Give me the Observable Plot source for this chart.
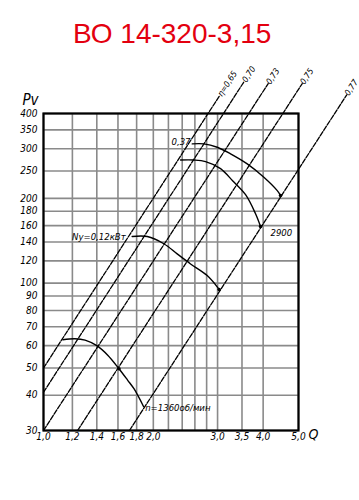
<!DOCTYPE html>
<html><head><meta charset="utf-8">
<script src="https://cdn.jsdelivr.net/npm/d3@7"></script>
<script src="https://cdn.jsdelivr.net/npm/@observablehq/plot@0.6"></script>
<style>
body{margin:0;background:#fff;width:359px;height:500px;overflow:hidden}
#title{height:50px;position:relative}
#title span{position:absolute;left:73px;top:19.6px;line-height:28px;font-family:"Liberation Sans",Arial,sans-serif;font-size:28px;color:#e3000f;white-space:nowrap}
#chart svg{display:block}
</style></head>
<body>
<div id="title"><span>ВО 14-320-3,15</span></div>
<div id="chart"></div>
<script>
// axis ticks / grid
const xTicks = [1.0, 1.2, 1.4, 1.6, 1.8, 2.0, 3.0, 3.5, 4.0, 5.0];
const xGrid = [1.0, 1.2, 1.4, 1.6, 1.8, 2.0, 2.2, 2.4, 2.6, 2.8, 3.0, 3.5, 4.0, 5.0];
const yTicks = [30, 40, 50, 60, 70, 80, 90, 100, 120, 140, 160, 180, 200, 250, 300, 350, 400];

// efficiency lines (start / end points)
const etaLabels = ["η=0,65", "0,70", "0,73", "0,75", "0,77"];
const etaQ0 = [1.0, 1.0, 1.0, 1.24, 1.72];
const etaP0 = [50, 41, 30, 30, 30];
const etaQ1 = [3.04, 3.55, 4.13, 5.12, 6.78];
const etaP1 = [463, 520, 511, 511, 466];

// fan curves
const lowQ = [1.13, 1.22, 1.30, 1.40, 1.50, 1.61, 1.70, 1.77, 1.88];
const lowP = [63, 63.5, 62.8, 60, 55.5, 49.7, 45.3, 42.2, 36.5];
const midQ = [1.75, 1.925, 2.137, 2.325, 2.53, 2.81, 3.03];
const midP = [146.4, 146.4, 138, 127, 117, 106.4, 95];
const topQ = [2.557, 2.751, 2.994, 3.256, 3.618, 4.018, 4.373, 4.465];
const topP = [312, 312, 303.6, 287.7, 265, 237.6, 213, 204.6];
const up2Q = [2.375, 2.583, 2.781, 3.057, 3.298, 3.58, 3.81, 3.935];
const up2P = [273.5, 273.5, 270, 255, 231, 206, 176.6, 158.8];

// marked points
const dotQ = [1.61, 4.465, 3.935, 3.03];
const dotP = [49.7, 204.6, 158.8, 95];

// annotations
const noteText = ["Ny=0,12кВт", "0,37", "2900", "n=1360об/мин"];
const noteQ = [1.68, 2.53, 4.19, 1.9];
const noteP = [146.4, 318, 151, 36.2];
const noteAnchor = ["end", "end", "start", "start"];

const etaRows = [];
etaLabels.forEach((l, i) => {
  etaRows.push({id: i, Q: etaQ0[i], P: etaP0[i]});
  etaRows.push({id: i, Q: etaQ1[i], P: etaP1[i]});
});
const etaEnds = etaLabels.map((l, i) => ({label: l, Q: etaQ1[i], P: etaP1[i]}));

const curveRows = [];
[[lowQ, lowP], [midQ, midP], [topQ, topP], [up2Q, up2P]].forEach(([qs, ps], k) => {
  qs.forEach((q, j) => curveRows.push({id: k, Q: q, P: ps[j]}));
});
const dots = dotQ.map((q, i) => ({Q: q, P: dotP[i]}));
const notes = noteText.map((t, i) => ({t, Q: noteQ[i], P: noteP[i], a: noteAnchor[i]}));

const font = "'DejaVu Sans Condensed','DejaVu Sans',sans-serif";

const chart = Plot.plot({
  width: 359,
  height: 450,
  marginTop: 63,
  marginBottom: 70,
  marginLeft: 43,
  marginRight: 61,
  style: {fontFamily: font, fontStretch: "condensed", fontStyle: "italic", fontSize: "10px", background: "#fff", color: "#000"},
  x: {type: "log", domain: [1, 5], axis: null},
  y: {type: "log", domain: [30, 400], axis: null},
  marks: [
    Plot.ruleX(xGrid, {stroke: "#8a8a8a", strokeWidth: 1.6}),
    Plot.ruleY(yTicks, {stroke: "#8a8a8a", strokeWidth: 1.6}),
    Plot.frame({stroke: "#000", strokeWidth: 2.2}),
    Plot.text(xTicks, {x: d => d, frameAnchor: "bottom", dy: 9.5, text: d => d.toFixed(1).replace(".", ","), fontSize: 10}),
    Plot.text(yTicks, {y: d => d, frameAnchor: "left", dx: -6, textAnchor: "end", text: d => String(d), fontSize: 10}),
    Plot.line(etaRows, {x: "Q", y: "P", z: "id", stroke: "#000", strokeWidth: 1.3, strokeDasharray: "5,1.5"}),
    Plot.line(curveRows, {x: "Q", y: "P", z: "id", stroke: "#000", strokeWidth: 1.4, curve: "catmull-rom"}),
    Plot.dot(dots, {x: "Q", y: "P", r: 1.8, fill: "#000"}),
    Plot.text(etaEnds, {x: "Q", y: "P", text: "label", rotate: -57, textAnchor: "start", dx: 0, fontSize: 8.5}),
    Plot.text(notes.filter(d => d.a === "end"), {x: "Q", y: "P", text: "t", textAnchor: "end", fontSize: 9.5}),
    Plot.text(notes.filter(d => d.a === "start"), {x: "Q", y: "P", text: "t", textAnchor: "start", fontSize: 9.5}),
    Plot.text(["Pv"], {frameAnchor: "top-left", dx: -13, dy: -19, fontSize: 15, textAnchor: "middle"}),
    Plot.text(["Q"], {frameAnchor: "bottom-right", dx: 15, dy: 8, fontSize: 14, textAnchor: "middle"})
  ]
});
document.getElementById("chart").appendChild(chart);
</script>
</body></html>
